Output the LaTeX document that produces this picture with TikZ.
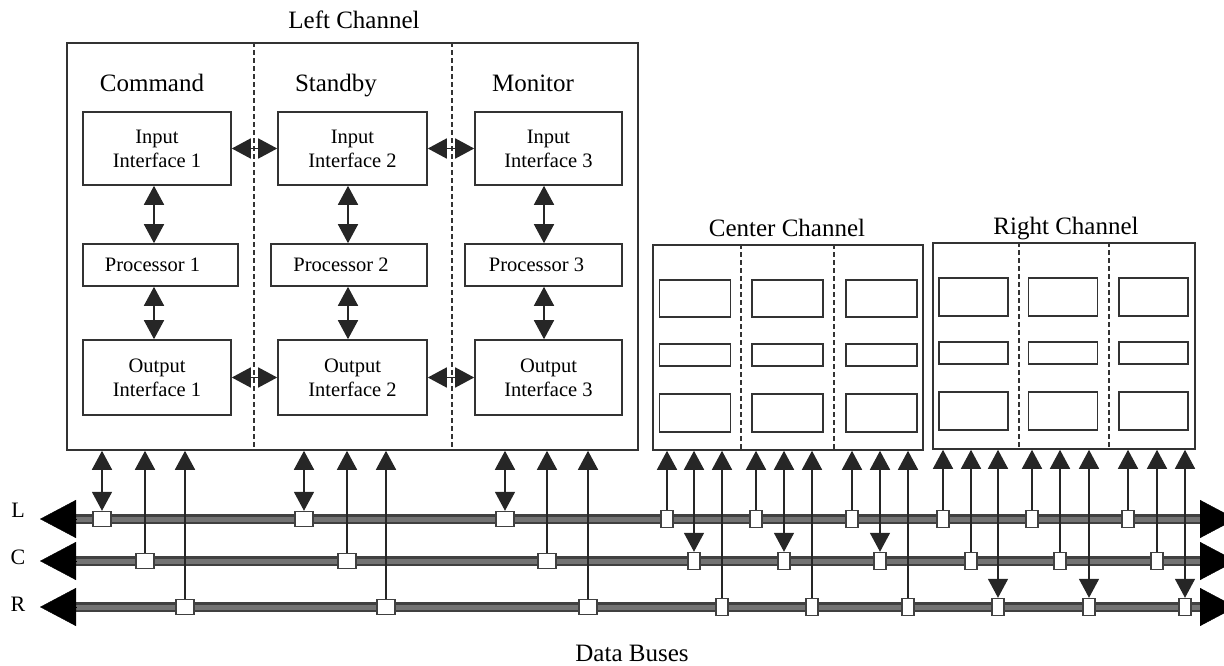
\documentclass[tikz,border=0pt]{standalone}
\usepackage{fontspec}
\setmainfont{Liberation Serif}
\usetikzlibrary{arrows.meta,calc}
\begin{document}
\begin{tikzpicture}[x=1pt,y=-1pt,
  chan/.style={draw=black!80, line width=1.6pt, rectangle, inner sep=0pt},
  sub/.style={draw=black!80, line width=1.6pt, fill=white, rectangle, inner sep=0pt, align=center, font=\fontsize{20.5}{24}\selectfont},
  proc/.style={draw=black!80, line width=1.6pt, fill=white, rectangle, inner sep=0pt, font=\fontsize{20.5}{24}\selectfont},
  blank/.style={draw=black!80, line width=1.6pt, rectangle, inner sep=0pt},
  divider/.style={draw=black!80, line width=1.2pt, dash pattern=on 5pt off 3pt},
  title/.style={font=\fontsize{25}{30}\selectfont, anchor=base, inner sep=0pt},
  buslabel/.style={font=\fontsize{22}{26}\selectfont, anchor=base, inner sep=0pt},
  taplg/.style={draw=black!75, line width=1.4pt, fill=white, rectangle, minimum width=18pt, minimum height=15pt, inner sep=0pt},
  tapsm/.style={draw=black!75, line width=1.4pt, fill=white, rectangle, minimum width=12pt, minimum height=17pt, inner sep=0pt},
  conn/.style={draw=black!85, line width=1.6pt},
  >={Triangle[length=19pt,width=20pt]},
  bus/.style={draw=black!75, line width=2.4pt, double=black!55, double distance=5pt},
  bushead/.style={line width=0.4pt, -{Triangle[length=36pt,width=38pt]}},
]
\useasboundingbox (0,0) rectangle (1224,666);

% ---------- channel frames ----------
\node[chan, minimum width=571pt, minimum height=407pt] (lch) at (352.5,246.5) {};
\node[chan, minimum width=270pt, minimum height=205pt] (cch) at (788,347.5) {};
\node[chan, minimum width=262pt, minimum height=206pt] (rch) at (1064,346) {};

% titles
\node[title] (tl) at (354,29) {Left Channel};
\node[title] (tc) at (787,236) {Center Channel};
\node[title] (tr) at (1066,234) {Right Channel};
\node[title] (tb) at (632,661) {Data Buses};

% dividers
\foreach \x [count=\i] in {254,452} {
  \coordinate (dl\i) at (\x,0);
  \draw[divider] (lch.north -| dl\i) -- (lch.south -| dl\i);
}
\foreach \x [count=\i] in {741,834} {
  \coordinate (dc\i) at (\x,0);
  \draw[divider] (cch.north -| dc\i) -- (cch.south -| dc\i);
}
\foreach \x [count=\i] in {1019,1109} {
  \coordinate (dr\i) at (\x,0);
  \draw[divider] (rch.north -| dr\i) -- (rch.south -| dr\i);
}

% column headings
\node[title] (hcmd) at (152,92) {Command};
\node[title] (hsby) at (336,92) {Standby};
\node[title] (hmon) at (533,92) {Monitor};

% ---------- left channel blocks ----------
\node[sub, minimum width=148pt, minimum height=73pt] (in1) at (157,148.5) {Input\\Interface 1};
\node[sub, minimum width=149pt, minimum height=73pt] (in2) at (352.5,148.5) {Input\\Interface 2};
\node[sub, minimum width=147pt, minimum height=73pt] (in3) at (548.5,148.5) {Input\\Interface 3};

\node[proc, minimum width=155pt, minimum height=42pt] (p1) at (160.5,265) {Processor 1\hspace*{16pt}};
\node[proc, minimum width=156pt, minimum height=42pt] (p2) at (349,265) {Processor 2\hspace*{16pt}};
\node[proc, minimum width=157pt, minimum height=42pt] (p3) at (543.5,265) {Processor 3\hspace*{14pt}};

\node[sub, minimum width=148pt, minimum height=75pt] (out1) at (157,377.5) {Output\\Interface 1};
\node[sub, minimum width=149pt, minimum height=75pt] (out2) at (352.5,377.5) {Output\\Interface 2};
\node[sub, minimum width=147pt, minimum height=75pt] (out3) at (548.5,377.5) {Output\\Interface 3};

% internal vertical arrows
\foreach \i/\x in {1/154,2/348,3/544} {
  \coordinate (v\i) at (\x,0);
  \draw[conn,<->] (in\i.south -| v\i) -- (p\i.north -| v\i);
  \draw[conn,<->] (p\i.south -| v\i) -- (out\i.north -| v\i);
}
% cross-lane arrows
\draw[conn,<->] (in1.east) -- (in2.west);
\draw[conn,<->] (in2.east) -- (in3.west);
\draw[conn,<->] (out1.east) -- (out2.west);
\draw[conn,<->] (out2.east) -- (out3.west);

% ---------- center / right channel empty blocks ----------
\foreach \cx [count=\i] in {695,787.5,881.5} {
  \node[blank, minimum width=71pt, minimum height=37pt] (cA\i) at (\cx,298.5) {};
  \node[blank, minimum width=71pt, minimum height=22pt] (cB\i) at (\cx,355) {};
  \node[blank, minimum width=71pt, minimum height=38pt] (cD\i) at (\cx,413) {};
}
\foreach \cx [count=\i] in {973.5,1063,1153.5} {
  \node[blank, minimum width=69pt, minimum height=38pt] (rA\i) at (\cx,297) {};
  \node[blank, minimum width=69pt, minimum height=22pt] (rB\i) at (\cx,353) {};
  \node[blank, minimum width=69pt, minimum height=38pt] (rD\i) at (\cx,411) {};
}

% ---------- buses ----------
\foreach \n/\y in {L/519,C/561,R/607} {
  \coordinate (\n w) at (76,\y);
  \coordinate (\n e) at (1200,\y);
  \coordinate (\n wt) at (40,\y);
  \coordinate (\n et) at (1236,\y);
  \draw[bus] (\n w) -- (\n e);
  \draw[bushead] (\n w) -- (\n wt);
  \draw[bushead] (\n e) -- (\n et);
}
\node[buslabel] (labL) at (18,517) {L};
\node[buslabel] (labC) at (18,564) {C};
\node[buslabel] (labR) at (18,611) {R};

% taps
\foreach \x [count=\i] in {102,304,505} \node[taplg] (lL\i) at (\x,519) {};
\foreach \x [count=\i] in {145,347,547} \node[taplg] (lC\i) at (\x,561) {};
\foreach \x [count=\i] in {185,386,588} \node[taplg] (lR\i) at (\x,607) {};
\foreach \x [count=\i] in {667,756,852} \node[tapsm] (cL\i) at (\x,519) {};
\foreach \x [count=\i] in {694,784,880} \node[tapsm] (cC\i) at (\x,561) {};
\foreach \x [count=\i] in {722,812,908} \node[tapsm] (cR\i) at (\x,607) {};
\foreach \x [count=\i] in {943,1032,1128} \node[tapsm] (rL\i) at (\x,519) {};
\foreach \x [count=\i] in {971,1060,1157} \node[tapsm] (rC\i) at (\x,561) {};
\foreach \x [count=\i] in {998,1089,1185} \node[tapsm] (rR\i) at (\x,607) {};

% bus connectors
\foreach \i in {1,2,3} {
  \draw[conn,<->] (lch.south -| lL\i) -- (lL\i.north);
  \draw[conn,->] (lC\i.north) -- (lch.south -| lC\i);
  \draw[conn,->] (lR\i.north) -- (lch.south -| lR\i);
  \draw[conn,->] (cL\i.north) -- (cch.south -| cL\i);
  \draw[conn,<->] (cch.south -| cC\i) -- (cC\i.north);
  \draw[conn,->] (cR\i.north) -- (cch.south -| cR\i);
  \draw[conn,->] (rL\i.north) -- (rch.south -| rL\i);
  \draw[conn,->] (rC\i.north) -- (rch.south -| rC\i);
  \draw[conn,<->] (rch.south -| rR\i) -- (rR\i.north);
}
\end{tikzpicture}
\end{document}
